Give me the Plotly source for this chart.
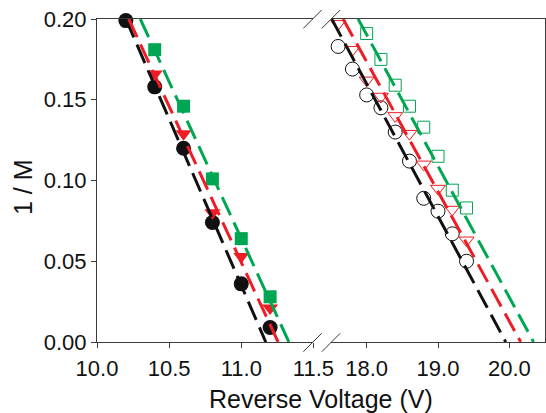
import plotly.graph_objects as go

# ---------------- data ----------------
# Left panel (filled symbols)
left_black_x = [10.2, 10.4, 10.6, 10.8, 11.0, 11.2]
left_black_y = [0.199, 0.158, 0.120, 0.074, 0.036, 0.009]
left_red_x = [10.4, 10.6, 10.8, 11.0, 11.2]
left_red_y = [0.166, 0.129, 0.080, 0.053, 0.021]
left_green_x = [10.4, 10.6, 10.8, 11.0, 11.2]
left_green_y = [0.181, 0.146, 0.101, 0.064, 0.028]

# Right panel (open symbols)
right_black_x = [17.6, 17.8, 18.0, 18.2, 18.4, 18.6, 18.8, 19.0, 19.2, 19.4]
right_black_y = [0.183, 0.169, 0.153, 0.145, 0.130, 0.112, 0.089, 0.081, 0.067, 0.050]
right_red_x = [17.6, 17.8, 18.0, 18.2, 18.4, 18.6, 18.8, 19.0, 19.2, 19.4]
right_red_y = [0.197, 0.181, 0.162, 0.152, 0.140, 0.129, 0.110, 0.095, 0.082, 0.063]
right_green_x = [18.0, 18.2, 18.4, 18.6, 18.8, 19.0, 19.2, 19.4]
right_green_y = [0.191, 0.175, 0.159, 0.146, 0.133, 0.115, 0.094, 0.083]

# Linear fit lines (end points)
fit_y = [0.20, 0.00]
left_black_fit_x = [10.20, 11.17]
left_red_fit_x = [10.22, 11.255]
left_green_fit_x = [10.30, 11.33]
right_black_fit_x = [17.51, 19.95]
right_red_fit_x = [17.67, 20.16]
right_green_fit_x = [17.88, 20.34]

left_ticks = [10.0, 10.5, 11.0, 11.5]
right_ticks = [18.0, 19.0, 20.0]
y_ticks = [0.0, 0.05, 0.10, 0.15, 0.20]

# ---------------- style ----------------
BLACK = "#111111"
RED = "#ee1c24"
GREEN = "#00a651"
AXIS = "#3a3a3a"
FONT = "Liberation Sans, Arial, sans-serif"
DASH = "20px,8px"

W, H = 546, 413
L, R, T, B = 97, 1, 19, 71
PW, PH = W - L - R, H - T - B


def px_x(x):
    return (x - L) / PW


def px_y(y):
    return (H - B - y) / PH


fig = go.Figure()


def add_markers(x, y, ax, symbol, color, size, filled):
    fig.add_trace(go.Scatter(
        x=x, y=y, mode="markers", xaxis=ax[0], yaxis=ax[1], cliponaxis=False,
        marker=dict(symbol=symbol, size=size,
                    color=color if filled else "rgba(0,0,0,0)",
                    line=dict(color=color, width=0 if filled else 1)),
        showlegend=False))


add_markers(left_black_x, left_black_y, ("x", "y"), "circle", BLACK, 15, True)
add_markers(left_red_x, left_red_y, ("x", "y"), "triangle-down", RED, 14, True)
add_markers(left_green_x, left_green_y, ("x", "y"), "square", GREEN, 13, True)
add_markers(right_black_x, right_black_y, ("x2", "y2"), "circle", BLACK, 14, False)
add_markers(right_red_x, right_red_y, ("x2", "y2"), "triangle-down", RED, 13, False)
add_markers(right_green_x, right_green_y, ("x2", "y2"), "square", GREEN, 12, False)


def add_line(x, y, ax, color):
    fig.add_trace(go.Scatter(
        x=x, y=y, mode="lines", xaxis=ax[0], yaxis=ax[1],
        line=dict(color=color, width=3, dash=DASH), showlegend=False))


add_line(left_black_fit_x, fit_y, ("x", "y"), BLACK)
add_line(left_red_fit_x, fit_y, ("x", "y"), RED)
add_line(left_green_fit_x, fit_y, ("x", "y"), GREEN)
add_line(right_black_fit_x, fit_y, ("x2", "y2"), BLACK)
add_line(right_red_fit_x, fit_y, ("x2", "y2"), RED)
add_line(right_green_fit_x, fit_y, ("x2", "y2"), GREEN)

left_end = px_x(313.4)
right_start = px_x(331.0)

tickfont = dict(family=FONT, size=22, color="#111111")
common_x = dict(showgrid=False, zeroline=False, showline=True, linecolor=AXIS,
                linewidth=1, ticks="outside", ticklen=5, tickcolor=AXIS,
                tickfont=tickfont, mirror=True, tickformat=".1f",
                ticklabelstandoff=2, automargin=False)

fig.update_layout(
    template="none",
    width=W, height=H, autosize=False,
    margin=dict(l=L, r=R, t=T, b=B, pad=0),
    paper_bgcolor="white", plot_bgcolor="white",
    font=dict(family=FONT, color="#111111"),
    xaxis=dict(domain=[0, left_end], range=[10.0, 11.5], tickvals=left_ticks,
               anchor="y", **common_x),
    xaxis2=dict(domain=[right_start, 1], range=[17.5, 20.5], tickvals=right_ticks,
                anchor="y2", **common_x),
    yaxis=dict(range=[0, 0.2], tickvals=y_ticks, tickformat=".2f",
               showgrid=False, zeroline=False, showline=True, linecolor=AXIS,
               linewidth=1, ticks="outside", ticklen=5, tickcolor=AXIS,
               tickfont=tickfont, anchor="x", automargin=False),
    yaxis2=dict(range=[0, 0.2], showgrid=False, zeroline=False, showline=True,
                linecolor=AXIS, linewidth=1, ticks="", showticklabels=False,
                anchor="x2", side="right", automargin=False),
)

# axis titles
fig.add_annotation(text="Reverse Voltage (V)", xref="paper", yref="paper",
                   x=px_x(321), y=px_y(399), showarrow=False,
                   xanchor="center", yanchor="middle",
                   font=dict(family=FONT, size=25, color="#111111"))
fig.add_annotation(text="1 / M", xref="paper", yref="paper",
                   x=px_x(23), y=px_y(187), showarrow=False, textangle=-90,
                   xanchor="center", yanchor="middle",
                   font=dict(family=FONT, size=25, color="#111111"))

# axis-break marks (decoration)
shapes = []
for yc in (19.2, 342.5):
    for xc in (312.5, 331.0):
        shapes.append(dict(type="line", xref="paper", yref="paper",
                           x0=px_x(xc - 9.2), y0=px_y(yc + 9.2),
                           x1=px_x(xc + 9.2), y1=px_y(yc - 9.2),
                           line=dict(color=AXIS, width=1)))
fig.update_layout(shapes=shapes)

fig.write_html(
    "out.html",
    config={"responsive": False, "displayModeBar": False},
    post_script="document.body.style.margin='0';document.body.style.overflow='hidden';",
)
